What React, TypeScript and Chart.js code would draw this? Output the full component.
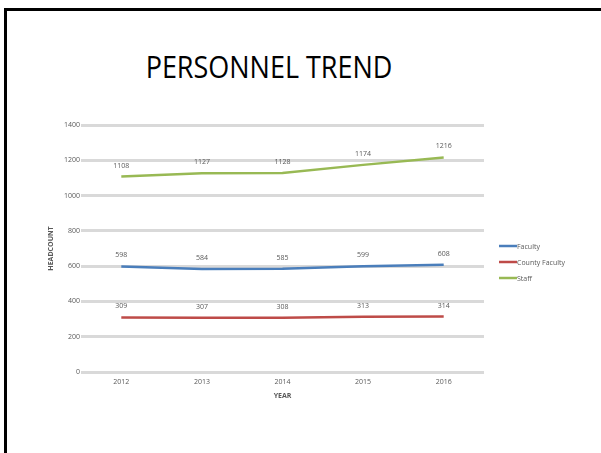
import { useEffect, useRef } from "react";
import { Chart, registerables } from "chart.js";

Chart.register(...registerables);

const years = ["2012", "2013", "2014", "2015", "2016"];
const faculty = [598, 584, 585, 599, 608];
const countyFaculty = [309, 307, 308, 313, 314];
const staff = [1108, 1127, 1128, 1174, 1216];
const seriesNames = ["Faculty", "County Faculty", "Staff"];
const seriesColors = ["#4a7ebb", "#be4b48", "#98b954"];
const yMin = 0;
const yMax = 1400;
const yStep = 200;

const FONT = "'Open Sans', 'Liberation Sans', sans-serif";
const GREY = "#595959";

const dataLabels = {
  id: "dataLabels",
  afterDatasetsDraw(chart: any) {
    const ctx = chart.ctx;
    ctx.save();
    ctx.font = `7px ${FONT}`;
    ctx.fillStyle = GREY;
    ctx.textAlign = "center";
    ctx.textBaseline = "middle";
    chart.data.datasets.forEach((ds: any, i: number) => {
      const meta = chart.getDatasetMeta(i);
      meta.data.forEach((pt: any, j: number) => {
        ctx.fillText(String(ds.data[j]), pt.x, pt.y - 11);
      });
    });
    ctx.restore();
  },
};

const sideLegend = {
  id: "sideLegend",
  afterDraw(chart: any) {
    const ctx = chart.ctx;
    const x0 = chart.chartArea.right + 15;
    const y0 = 246;
    ctx.save();
    ctx.font = `7px ${FONT}`;
    ctx.textAlign = "left";
    ctx.textBaseline = "middle";
    chart.data.datasets.forEach((ds: any, i: number) => {
      const y = y0 + i * 16;
      ctx.strokeStyle = ds.borderColor;
      ctx.lineWidth = 2.5;
      ctx.beginPath();
      ctx.moveTo(x0, y);
      ctx.lineTo(x0 + 18, y);
      ctx.stroke();
      ctx.fillStyle = GREY;
      ctx.fillText(ds.label, x0 + 18, y + 1);
    });
    ctx.restore();
  },
};

export default function App() {
  const canvasRef = useRef<HTMLCanvasElement | null>(null);

  useEffect(() => {
    if (!canvasRef.current) return;
    const values = [faculty, countyFaculty, staff];
    const chart = new Chart(canvasRef.current, {
      type: "line",
      data: {
        labels: years,
        datasets: values.map((v, i) => ({
          label: seriesNames[i],
          data: v,
          borderColor: seriesColors[i],
          backgroundColor: seriesColors[i],
          borderWidth: 2.5,
          pointRadius: 0,
          tension: 0,
          fill: false,
        })),
      },
      options: {
        animation: false,
        responsive: false,
        maintainAspectRatio: false,
        layout: { padding: { left: 44, right: 117, top: 125, bottom: 51 } },
        plugins: {
          legend: { display: false },
          tooltip: { enabled: false },
          title: { display: false },
        },
        scales: {
          x: {
            offset: true,
            grid: { display: false, drawTicks: false },
            border: { display: false },
            ticks: { color: GREY, font: { family: FONT, size: 7 }, padding: 6, maxRotation: 0 },
            title: {
              display: true,
              text: "YEAR",
              color: GREY,
              font: { family: FONT, size: 7, weight: "bold" },
              padding: { top: 0, bottom: 2 },
            },
            afterFit: (s: any) => {
              s.height = 30;
            },
          },
          y: {
            min: yMin,
            max: yMax,
            ticks: {
              stepSize: yStep,
              color: GREY,
              font: { family: FONT, size: 7 },
              padding: 1,
              callback: (v: any) => String(v),
            },
            grid: { color: "#d9d9d9", lineWidth: 3, drawTicks: false },
            border: { display: false },
            title: {
              display: true,
              text: "HEADCOUNT",
              color: GREY,
              font: { family: FONT, size: 7, weight: "bold" },
              padding: { top: 3, bottom: 0 },
            },
            afterFit: (s: any) => {
              s.width = 37;
            },
          },
        },
      },
      plugins: [dataLabels, sideLegend],
    });
    return () => chart.destroy();
  }, []);

  return (
    <div
      style={{
        position: "absolute",
        left: 0,
        top: 0,
        width: 601,
        height: 453,
        overflow: "hidden",
        background: "#ffffff",
      }}
    >
      <div
        style={{
          position: "absolute",
          left: 4,
          top: 8,
          width: 800,
          height: 800,
          border: "3px solid #000",
        }}
      />
      <div
        style={{
          position: "absolute",
          left: 0,
          top: 46,
          width: 538,
          textAlign: "center",
          fontFamily: FONT,
          fontSize: 31,
          lineHeight: "40px",
          color: "#000",
          transform: "scaleX(0.87)",
          transformOrigin: "269px 0",
        }}
      >
        PERSONNEL TREND
      </div>
      <canvas
        ref={canvasRef}
        width={601}
        height={453}
        style={{ position: "absolute", left: 0, top: 0, width: 601, height: 453 }}
      />
    </div>
  );
}
